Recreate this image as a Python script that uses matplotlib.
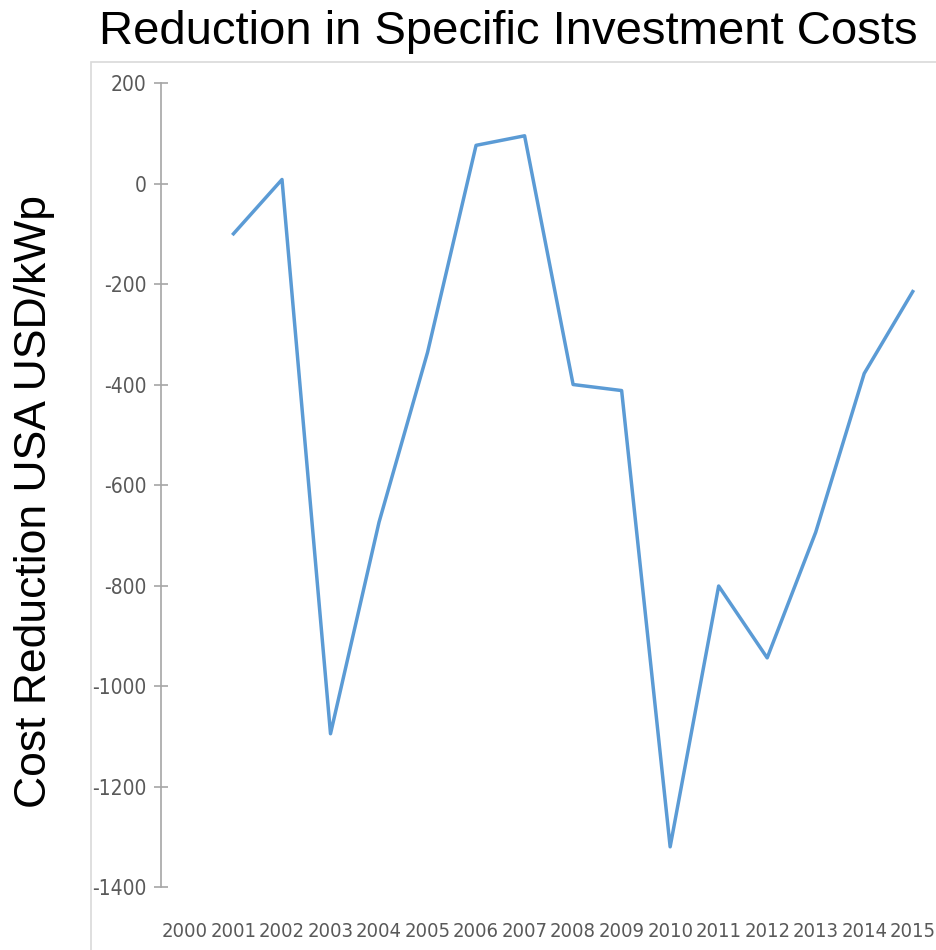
import matplotlib.pyplot as plt
from matplotlib.patches import Rectangle

years = [str(y) for y in range(2000, 2016)]
data_years = years[1:]
cost_reduction = [-100, 8, -1095, -674, -336, 76, 95, -400, -412, -1320, -801, -944, -694, -378, -215]

plt.rcParams['font.family'] = ['DejaVu Sans']
plt.rcParams['font.stretch'] = 'condensed'
plt.rcParams['axes.unicode_minus'] = False

fig = plt.figure(figsize=(9.37, 9.5), dpi=100)

# chart area border
fig.patches.append(Rectangle((0.097, -0.01), 0.92, 0.9447, transform=fig.transFigure,
                             fill=False, edgecolor='#d9d9d9', linewidth=1.2))

ax = fig.add_axes([0.1715, 0.0663, 0.8285, 0.8463])
x = [years.index(y) for y in data_years]
ax.plot(x, cost_reduction, color='#5b9bd5', linewidth=2.5)

ax.set_xlim(-0.5, len(years) - 0.5)
ax.set_ylim(-1400, 200)
ax.set_yticks(range(-1400, 201, 200))
ax.set_xticks(range(len(years)))
ax.set_xticklabels(years)

for s in ['top', 'right', 'bottom']:
    ax.spines[s].set_visible(False)
ax.spines['left'].set_color('#a6a6a6')
ax.spines['left'].set_linewidth(1.2)

ax.tick_params(axis='y', direction='inout', length=10, width=1.2, color='#a6a6a6',
               labelsize=15, labelcolor='#595959', pad=5)
ax.tick_params(axis='x', length=0, labelsize=14.5, labelcolor='#595959', pad=25)

fig.text(0.543, 0.966, 'Reduction in Specific Investment Costs', ha='center', va='center',
         fontsize=34, family='Liberation Sans', stretch='normal')
fig.text(0.037, 0.472, 'Cost Reduction USA USD/kWp', ha='center', va='center',
         rotation=90, fontsize=32, family='Liberation Sans', stretch='normal')

fig.savefig('out.png', dpi=100)
